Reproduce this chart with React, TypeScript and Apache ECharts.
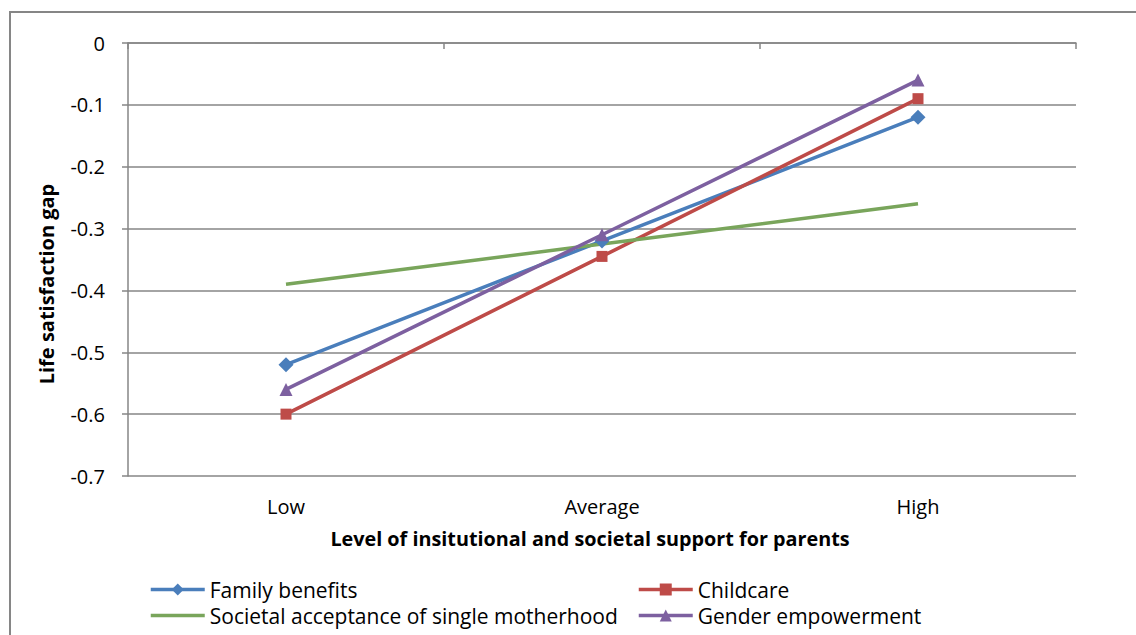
import React, { useEffect, useRef } from "react";
import * as echarts from "echarts";

const categories = ["Low", "Average", "High"];
const familyBenefits = [-0.52, -0.32, -0.12];
const childcare = [-0.6, -0.345, -0.09];
const societalAcceptance = [-0.39, -0.325, -0.26];
const genderEmpowerment = [-0.56, -0.31, -0.06];
const seriesNames = [
  "Family benefits",
  "Childcare",
  "Societal acceptance of single motherhood",
  "Gender empowerment",
];
const yTitle = "Life satisfaction gap";
const xTitle = "Level of insitutional and societal support for parents";

const FONT = "'Open Sans', Lato, sans-serif";

export default function App() {
  const ref = useRef<HTMLDivElement>(null);
  useEffect(() => {
    if (!ref.current) return;
    const chart = echarts.init(ref.current, undefined, { renderer: "svg" });
    const mk = (name: string, data: number[], color: string, symbol: string, size: number) => ({
      name,
      type: "line",
      data,
      symbol,
      symbolSize: size,
      showSymbol: symbol !== "none",
      lineStyle: { width: 3.5, color },
      itemStyle: { color },
      z: 3,
    });
    const legendText = { fontFamily: FONT, fontSize: 21, color: "#000" };
    const legendBase = {
      orient: "horizontal",
      itemWidth: 54,
      itemHeight: 15,
      itemGap: 5,
      textStyle: legendText,
      lineStyle: { width: 3.5 },
      padding: 0,
    };
    chart.setOption({
      animation: false,
      backgroundColor: "transparent",
      grid: { left: 128, right: 60, top: 43, bottom: 159, containLabel: false },
      legend: [
        { ...legendBase, data: [seriesNames[0]], left: 149, top: 579 },
        { ...legendBase, data: [seriesNames[1]], left: 637, top: 579 },
        { ...legendBase, data: [{ name: seriesNames[2], itemStyle: { opacity: 0 } }], left: 149, top: 605 },
        { ...legendBase, data: [seriesNames[3]], left: 637, top: 605 },
      ],
      graphic: [
        {
          type: "text",
          x: 46,
          y: 284,
          rotation: Math.PI / 2,
          style: {
            text: yTitle,
            fontFamily: FONT,
            fontSize: 20,
            fontWeight: "bold",
            fill: "#000",
            align: "center",
            verticalAlign: "middle",
          },
          silent: true,
        },
      ],
      xAxis: {
        type: "category",
        data: categories,
        boundaryGap: true,
        name: xTitle,
        nameLocation: "middle",
        nameGap: 52,
        nameTextStyle: {
          fontFamily: FONT,
          fontSize: 19.8,
          fontWeight: "bold",
          color: "#000",
          padding: [0, 24, 0, 0],
        },
        axisLine: { lineStyle: { color: "#868686", width: 1.5 } },
        axisTick: { show: true, length: 6, lineStyle: { color: "#868686", width: 1.5 } },
        axisLabel: { fontFamily: FONT, fontSize: 20, color: "#000", margin: 20 },
      },
      yAxis: {
        type: "value",
        min: -0.7,
        max: 0,
        interval: 0.1,
        axisLine: { show: true, lineStyle: { color: "#868686", width: 1.5 } },
        axisTick: { show: true, length: 6, lineStyle: { color: "#868686", width: 1.5 } },
        splitLine: { lineStyle: { color: "#868686", width: 1.5 } },
        axisLabel: {
          fontFamily: FONT,
          fontSize: 20,
          color: "#000",
          margin: 23,
          formatter: (v: number) => (Math.abs(v) < 1e-9 ? "0" : String(Math.round(v * 10) / 10)),
        },
      },
      series: [
        mk(seriesNames[0], familyBenefits, "#4A7EBB", "diamond", 15),
        mk(seriesNames[1], childcare, "#BE4B48", "rect", 11),
        mk(seriesNames[2], societalAcceptance, "#79A55B", "none", 0),
        mk(seriesNames[3], genderEmpowerment, "#7D60A0", "triangle", 13),
      ],
    });
    return () => chart.dispose();
  }, []);
  return (
    <div
      style={{
        position: "fixed",
        left: 0,
        top: 0,
        width: 1136,
        height: 635,
        background: "#fff",
        overflow: "hidden",
      }}
    >
      <div
        style={{
          position: "absolute",
          left: 9,
          top: 11,
          width: 1140,
          height: 640,
          borderLeft: "2px solid #868686",
          borderTop: "2px solid #868686",
          boxSizing: "border-box",
        }}
      />
      <div
        ref={ref}
        style={{ position: "absolute", left: 0, top: 0, width: 1136, height: 635 }}
      />
    </div>
  );
}
